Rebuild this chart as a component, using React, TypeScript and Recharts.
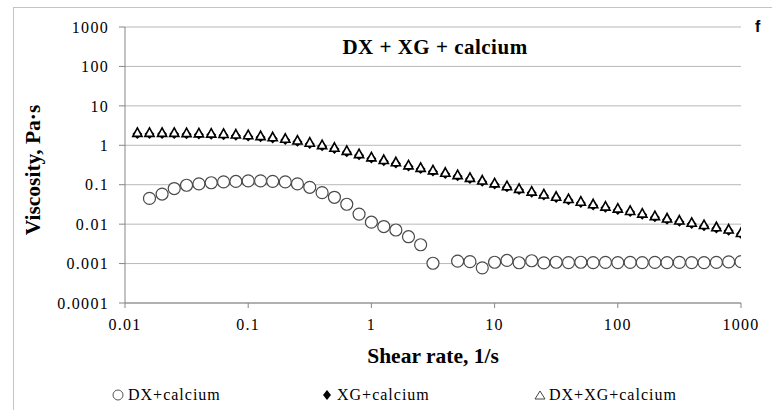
import React from 'react';
import { ScatterChart, Scatter, XAxis, YAxis, CartesianGrid, Legend, Label } from 'recharts';

const xTicks = [0.01, 0.1, 1, 10, 100, 1000];
const xTickLabels = ['0.01', '0.1', '1', '10', '100', '1000'];
const yTicks = [0.0001, 0.001, 0.01, 0.1, 1, 10, 100, 1000];
const yTickLabels = ['0.0001', '0.001', '0.01', '0.1', '1', '10', '100', '1000'];

const seriesNames = ['DX+calcium', 'XG+calcium', 'DX+XG+calcium'];

const dxRate = [
  0.0158, 0.02, 0.0251, 0.0316, 0.0398, 0.0501, 0.0631, 0.0794, 0.1, 0.126, 0.158, 0.2,
  0.251, 0.316, 0.398, 0.501, 0.631, 0.794, 1, 1.26, 1.58, 2, 2.51, 3.16,
  5.01, 6.31, 7.94, 10, 12.6, 15.8, 20, 25.1, 31.6, 39.8, 50.1, 63.1,
  79.4, 100, 126, 158, 200, 251, 316, 398, 501, 631, 794, 1000,
];
const dxVisc = [
  0.045, 0.058, 0.08, 0.097, 0.105, 0.112, 0.118, 0.121, 0.125, 0.125, 0.122, 0.118,
  0.105, 0.086, 0.063, 0.048, 0.032, 0.018, 0.0112, 0.0087, 0.0071, 0.0048, 0.003, 0.00102,
  0.00115, 0.00112, 0.00078, 0.00108, 0.0012, 0.00105, 0.00118, 0.00104, 0.00108, 0.00106, 0.00108, 0.00106,
  0.00107, 0.00106, 0.00107, 0.00106, 0.00107, 0.00106, 0.00107, 0.00106, 0.00106, 0.00107, 0.0011, 0.00112,
];

const mixRate = [
  0.0126, 0.0158, 0.02, 0.0251, 0.0316, 0.0398, 0.0501, 0.0631, 0.0794, 0.1,
  0.126, 0.158, 0.2, 0.251, 0.316, 0.398, 0.501, 0.631, 0.794, 1,
  1.26, 1.58, 2, 2.51, 3.16, 3.98, 5.01, 6.31, 7.94, 10,
  12.6, 15.8, 20, 25.1, 31.6, 39.8, 50.1, 63.1, 79.4, 100,
  126, 158, 200, 251, 316, 398, 501, 631, 794, 1000,
];
const mixVisc = [
  2.0, 2.0, 2.0, 2.0, 1.98, 1.95, 1.92, 1.88, 1.82, 1.75,
  1.66, 1.55, 1.42, 1.28, 1.13, 0.98, 0.84, 0.7, 0.58, 0.48,
  0.41, 0.36, 0.3, 0.26, 0.225, 0.195, 0.17, 0.145, 0.124, 0.105,
  0.089, 0.076, 0.065, 0.055, 0.048, 0.042, 0.036, 0.031, 0.027, 0.024,
  0.021, 0.018, 0.0155, 0.0135, 0.012, 0.0105, 0.0092, 0.0081, 0.0071, 0.0058,
];
const xgRate = mixRate;
const xgVisc = [
  1.92, 1.92, 1.92, 1.92, 1.9, 1.87, 1.84, 1.8, 1.74, 1.68,
  1.59, 1.49, 1.36, 1.23, 1.08, 0.94, 0.81, 0.67, 0.56, 0.46,
  0.395, 0.345, 0.288, 0.25, 0.216, 0.187, 0.163, 0.139, 0.119, 0.101,
  0.086, 0.073, 0.063, 0.053, 0.046, 0.0405, 0.0345, 0.0298, 0.026, 0.023,
  0.0202, 0.0173, 0.0149, 0.013, 0.0115, 0.0101, 0.0088, 0.0078, 0.0068, 0.0056,
];

const toPoints = (xs: number[], ys: number[]) => xs.map((x, i) => ({ x, y: ys[i] }));
const dxData = toPoints(dxRate, dxVisc);
const xgData = toPoints(xgRate, xgVisc);
const mixData = toPoints(mixRate, mixVisc);

const serif = '"Liberation Serif", "Times New Roman", serif';
const gridColor = '#b8b8b8';
const axisColor = '#868686';

const fmt = (ticks: number[], labels: string[]) => (v: number) => {
  const i = ticks.findIndex((t) => Math.abs(t - v) / t < 1e-6);
  return i >= 0 ? labels[i] : String(v);
};

const CircleShape = (p: any) => (
  <circle cx={p.cx} cy={p.cy} r={6} fill="#fff" stroke="#4a4a4a" strokeWidth={1.2} />
);
const DiamondShape = (p: any) => (
  <path d={`M${p.cx},${p.cy - 5} L${p.cx + 5},${p.cy} L${p.cx},${p.cy + 5} L${p.cx - 5},${p.cy} Z`} fill="#000" />
);
const TriangleShape = (p: any) => (
  <path d={`M${p.cx},${p.cy - 5.5} L${p.cx + 4.6},${p.cy + 3} L${p.cx - 4.6},${p.cy + 3} Z`} fill="#fff" stroke="#000" strokeWidth={1.6} strokeLinejoin="miter" />
);

const LegendContent = () => {
  const item = (left: number, icon: React.ReactNode, text: string) => (
    <div style={{ position: 'absolute', left, top: 0, height: 20, display: 'flex', alignItems: 'center' }}>
      <svg width={14} height={14} style={{ marginRight: 2 }}>{icon}</svg>
      <span style={{ fontFamily: serif, fontSize: 16, letterSpacing: 1, color: '#000' }}>{text}</span>
    </div>
  );
  return (
    <div style={{ position: 'relative', width: 772, height: 20 }}>
      {item(112, <circle cx={6} cy={7} r={5} fill="#fff" stroke="#555" strokeWidth={1} />, seriesNames[0])}
      {item(321, <path d="M6,2 L10,7 L6,12 L2,7 Z" fill="#000" />, seriesNames[1])}
      {item(533, <path d="M7,3 L12,11 L2,11 Z" fill="#fff" stroke="#444" strokeWidth={1} />, seriesNames[2])}
    </div>
  );
};

const XTitle = (props: any) => {
  const vb = props.viewBox;
  return (
    <text x={vb.x + vb.width / 2} y={vb.y + 60} textAnchor="middle" fontFamily={serif} fontWeight="bold" fontSize={21.5} fill="#000">
      Shear rate, 1/s
    </text>
  );
};
const YTitle = (props: any) => {
  const vb = props.viewBox;
  const x = vb.x + 40;
  const y = vb.y + vb.height / 2 + 5;
  return (
    <text x={x} y={y} transform={`rotate(-90 ${x} ${y})`} textAnchor="middle" fontFamily={serif} fontWeight="bold" fontSize={21.5} fill="#000">
      Viscosity, Pa·s
    </text>
  );
};

export default function App() {
  return (
    <div style={{ position: 'absolute', left: 0, top: 0, width: 772, height: 410, background: '#fff' }}>
      <ScatterChart width={772} height={410} margin={{ top: 27, right: 31, bottom: 47, left: 0 }}>
        <CartesianGrid horizontal vertical={false} stroke={gridColor} strokeWidth={1} />
        <XAxis
          dataKey="x"
          type="number"
          scale="log"
          domain={[0.01, 1000]}
          allowDataOverflow
          ticks={xTicks}
          tickFormatter={fmt(xTicks, xTickLabels)}
          height={60}
          tickSize={5}
          tickMargin={11}
          axisLine={{ stroke: axisColor }}
          tickLine={{ stroke: axisColor }}
          tick={{ fontFamily: serif, fontSize: 16, letterSpacing: 1.3, fill: '#000' }}
          interval={0}
        >
          <Label content={<XTitle />} />
        </XAxis>
        <YAxis
          dataKey="y"
          type="number"
          scale="log"
          domain={[0.0001, 1000]}
          allowDataOverflow
          ticks={yTicks}
          tickFormatter={fmt(yTicks, yTickLabels)}
          width={125}
          tickSize={6}
          tickMargin={10}
          axisLine={{ stroke: axisColor }}
          tickLine={{ stroke: axisColor }}
          tick={{ fontFamily: serif, fontSize: 16, letterSpacing: 1.3, fill: '#000' }}
          interval={0}
        >
          <Label content={<YTitle />} />
        </YAxis>
        <Legend
          layout="horizontal"
          verticalAlign="middle"
          align="center"
          content={<LegendContent />}
          wrapperStyle={{ top: 385, left: 0, width: 772, height: 20 }}
        />
        <Scatter name={seriesNames[0]} data={dxData} shape={<CircleShape />} isAnimationActive={false} />
        <Scatter name={seriesNames[1]} data={xgData} shape={<DiamondShape />} isAnimationActive={false} />
        <Scatter name={seriesNames[2]} data={mixData} shape={<TriangleShape />} isAnimationActive={false} />
      </ScatterChart>
      <svg width={772} height={410} style={{ position: 'absolute', left: 0, top: 0, pointerEvents: 'none' }}>
        <rect x={13.5} y={7.5} width={800} height={500} fill="none" stroke="#c4c4c4" strokeWidth={1} />
        <text x={435} y={54} textAnchor="middle" fontFamily={serif} fontWeight="bold" fontSize={21} letterSpacing={0.5} fill="#000">
          DX + XG + calcium
        </text>
        <text x={755} y={32} fontFamily='"Liberation Sans", Arial, sans-serif' fontWeight="bold" fontSize={16} fill="#000">
          f
        </text>
      </svg>
    </div>
  );
}
